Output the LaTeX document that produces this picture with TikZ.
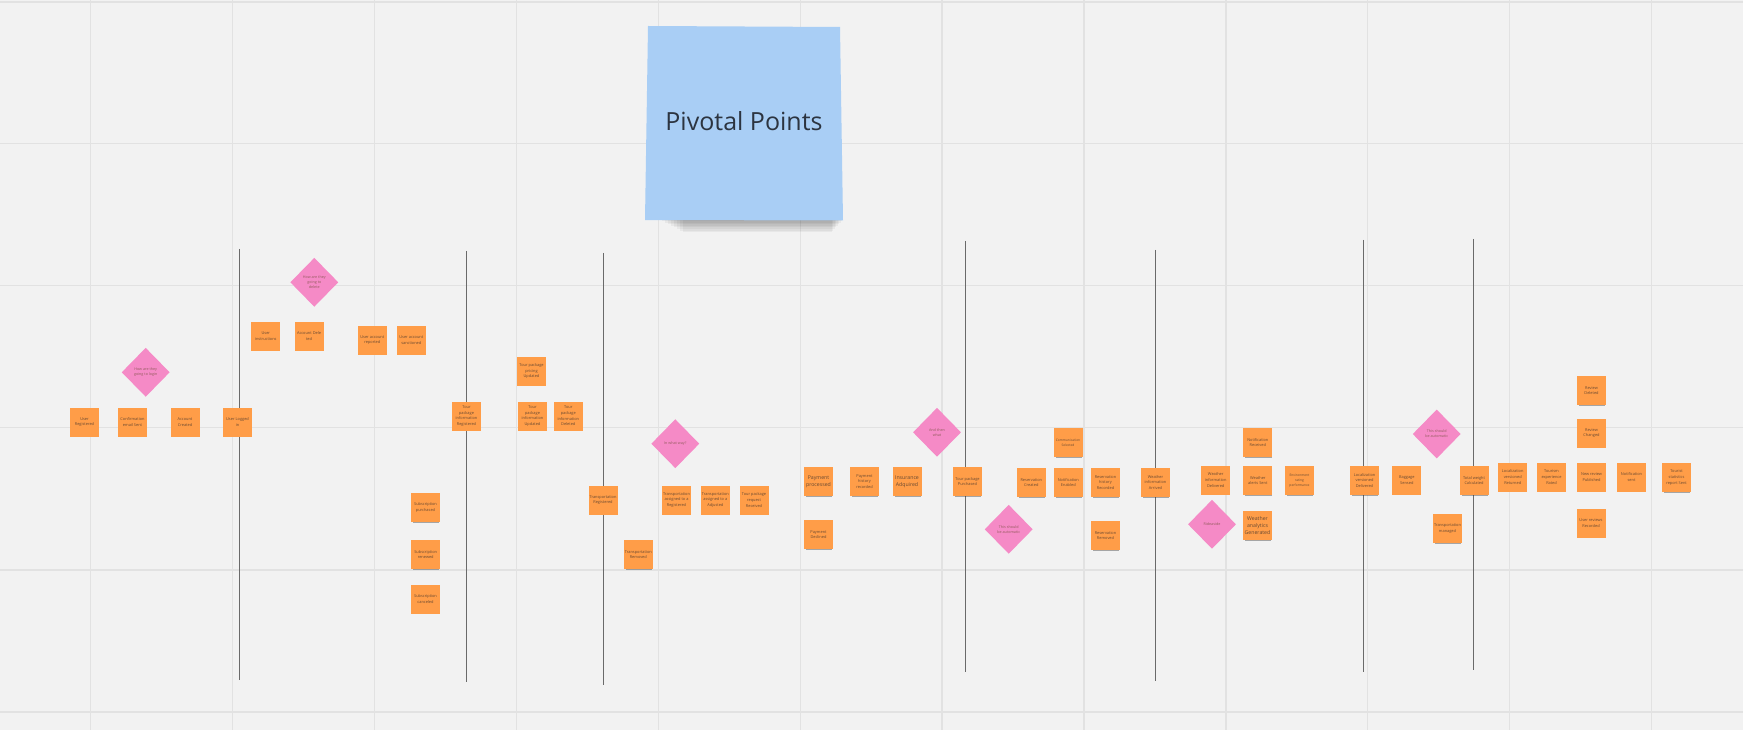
\documentclass[tikz,border=0pt]{standalone}
\usepackage{fontspec}
\setmainfont{Open Sans}
\usetikzlibrary{shapes.geometric,shadows}
\definecolor{bg}{HTML}{F2F2F2}
\definecolor{gridc}{HTML}{E2E2E2}
\definecolor{stickyc}{HTML}{FF9D48}
\definecolor{pinkc}{HTML}{F58AC6}
\definecolor{bluec}{HTML}{A9CEF5}
\definecolor{txtc}{HTML}{6A4A32}
\definecolor{divc}{HTML}{6A6A6A}
\definecolor{titlec}{HTML}{2C3440}
\tikzset{
  sticky/.style={rectangle, fill=stickyc, minimum width=29pt, minimum height=29pt,
    inner sep=0pt, align=center, text=txtc, font=\fontsize{3.9}{5.6}\selectfont,
    drop shadow={shadow xshift=0.8pt, shadow yshift=-2.6pt, shadow scale=0.9, opacity=0.4, fill=black!80}},
  bigsticky/.style={sticky, font=\fontsize{5.2}{6.6}\selectfont},
  decision/.style={diamond, fill=pinkc, minimum width=48pt, minimum height=49pt,
    inner sep=0pt, align=center, text=txtc!70!pinkc, font=\fontsize{3.7}{5.2}\selectfont},
  gridline/.style={draw=gridc, line width=1.3pt},
  divider/.style={draw=divc, line width=0.9pt},
}
\begin{document}
\begin{tikzpicture}[x=1pt,y=-1pt]
\useasboundingbox (0,0) rectangle (1743,730);
\fill[bg] (0,0) rectangle (1743,730);
% grid
\foreach \gx in {90.7,232.6,374.5,516.4,658.3,800.2,942.1,1084,1225.9,1367.8,1509.7,1651.6}
  \draw[gridline] (\gx,0) -- (\gx,730);
\foreach \gy in {2,143.8,285.7,427.7,570,712}
  \draw[gridline] (0,\gy) -- (1743,\gy);
% dividers
\draw[divider] (239,249) -- (239,680);
\draw[divider] (466,251) -- (466,682);
\draw[divider] (603.3,253) -- (603.3,685);
\draw[divider] (965.3,241) -- (965.3,672);
\draw[divider] (1155,250) -- (1155,681);
\draw[divider] (1363.5,240) -- (1363.5,672);
\draw[divider] (1473.7,239) -- (1473.7,670);
% pivotal points sticky shadow
\foreach \i in {0,...,7}
  \fill[black, opacity=0.045] (662+\i*3,219) rectangle (842-\i*1.5,221+\i*1.6);
% pivotal points sticky
\fill[bluec] (648,26) -- (840,27) -- (843,220.5) -- (645,220) -- cycle;
\node[font=\fontsize{25}{30}\selectfont, text=titlec] (pivotal) at (744,121) {Pivotal Points};

% stickies
\node[sticky] (s1) at (84.5,422) {User\\Registered};
\node[sticky] (s2) at (132.5,422) {Confirmation\\email Sent};
\node[sticky] (s3) at (185,422) {Account\\Created};
\node[sticky] (s4) at (237.5,422) {User Logged\\in};
\node[decision] (d1) at (145.7,372.3) {How are they\\going to login};
\node[decision] (d2) at (314.3,282.3) {How are they\\going to\\delete};
\node[sticky] (s5) at (265.8,336) {User\\instructions};
\node[sticky] (s6) at (309,336) {Account Dele\\ted};
\node[sticky] (s7) at (372.3,340) {User account\\reported};
\node[sticky] (s8) at (411.3,340) {User account\\sanctioned};
\node[sticky] (s9) at (466.5,416) {Tour\\package\\information\\Registered};
\node[sticky] (s10) at (531.5,371) {Tour package\\pricing\\Updated};
\node[sticky] (s11) at (532.5,416) {Tour\\package\\information\\Updated};
\node[sticky] (s12) at (568.3,416) {Tour\\package\\information\\Deleted};
\node[sticky] (s13) at (425.5,507.5) {Subscription\\purchased};
\node[sticky] (s14) at (425.7,554.5) {Subscription\\renewed};
\node[sticky] (s15) at (425.5,599) {Subscription\\canceled};
\node[sticky] (s16) at (603,500) {Transportation\\Registered};
\node[sticky] (s17) at (638.3,554.5) {Transportation\\Removed};
\node[decision] (d3) at (675.3,443.7) {In what way?};
\node[sticky] (s18) at (676.5,500) {Transportation\\assigned to a\\Registered};
\node[sticky] (s19) at (715.3,500) {Transportation\\assigned to a\\Adjusted};
\node[sticky] (s20) at (754,500) {Tour package\\request\\Received};
\node[bigsticky] (s21) at (818.5,481.5) {Payment\\processed};
\node[sticky] (s22) at (818.5,534.5) {Payment\\Declined};
\node[sticky] (s23) at (864.5,481.5) {Payment\\history\\recorded};
\node[bigsticky] (s24) at (907,481.5) {Insurance\\Adquired};
\node[decision] (d4) at (937,432.3) {And then\\what};
\node[sticky] (s25) at (967.5,481.5) {Tour package\\Purchased};
\node[decision] (d5) at (1008.7,529.3) {This should\\be automatic};
\node[sticky] (s26) at (1031.3,482.5) {Reservation\\Created};
\node[sticky, font=\fontsize{3.3}{4.8}\selectfont] (s27) at (1068,442.5) {Communication\\Selected};
\node[sticky] (s28) at (1068.3,482.5) {Notification\\Enabled};
\node[sticky] (s29) at (1105.5,482.5) {Reservation\\history\\Recorded};
\node[sticky] (s30) at (1105.5,535.5) {Reservation\\Removed};
\node[sticky] (s31) at (1155.5,482.5) {Weather\\information\\Arrived};
\node[sticky] (s32) at (1215.7,480) {Weather\\information\\Delivered};
\node[decision] (d6) at (1212,524.3) {Rideaside};
\node[sticky] (s33) at (1257.8,442.5) {Notification\\Received};
\node[sticky] (s34) at (1257.8,480.5) {Weather\\alerts Sent};
\node[bigsticky] (s35) at (1257.5,525.5) {Weather\\analytics\\Generated};
\node[sticky, font=\fontsize{3.3}{4.8}\selectfont] (s36) at (1299.5,480.5) {Environment\\rating\\performance};
\node[sticky] (s37) at (1364.5,480.5) {Localization\\versioned\\Delivered};
\node[sticky] (s38) at (1406.8,480) {Baggage\\Sensed};
\node[decision] (d7) at (1436.7,434) {This should\\be automatic};
\node[sticky] (s39) at (1447.5,528.3) {Transportation\\managed};
\node[sticky] (s40) at (1474,480.5) {Total weight\\Calculated};
\node[sticky] (s41) at (1512.7,477) {Localization\\versioned\\Returned};
\node[sticky] (s42) at (1551.5,477) {Tourism\\experience\\Rated};
\node[sticky] (s43) at (1591.5,390.5) {Review\\Deleted};
\node[sticky] (s44) at (1591.5,433) {Review\\Changed};
\node[sticky] (s45) at (1591.5,477) {New review\\Published};
\node[sticky] (s46) at (1591,523) {User reviews\\Recorded};
\node[sticky] (s47) at (1631.5,477) {Notification\\sent};
\node[sticky] (s48) at (1676.5,477.5) {Tourist\\statistics\\report Sent};
\end{tikzpicture}
\end{document}
